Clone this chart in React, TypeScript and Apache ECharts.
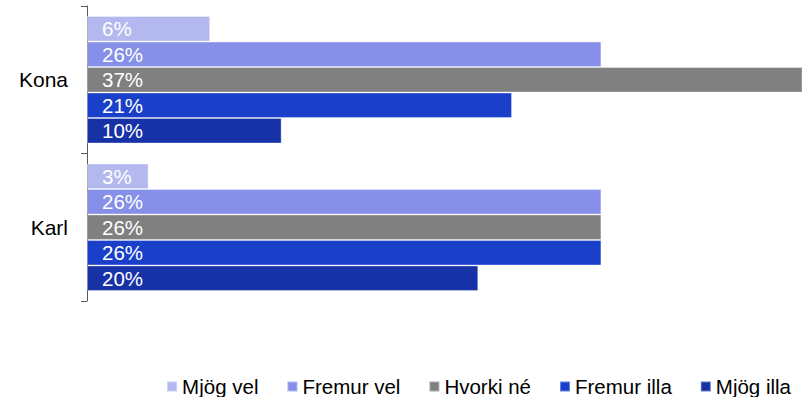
import React, { useEffect, useRef } from "react";
import * as echarts from "echarts";

const categories = ["Kona", "Karl"];
const seriesNames = ["Mjög vel", "Fremur vel", "Hvorki né", "Fremur illa", "Mjög illa"];
const seriesColors = ["#B3B9EE", "#8690E8", "#808080", "#1A3FC9", "#1731A6"];
// values per series: [Kona, Karl]
const mjogVel = [6.2, 3.1];
const fremurVel = [25.9, 25.9];
const hvorkiNe = [36.7, 25.9];
const fremurIlla = [21.4, 25.9];
const mjogIlla = [9.8, 19.7];
const seriesValues = [mjogVel, fremurVel, hvorkiNe, fremurIlla, mjogIlla];

const FONT = "'Liberation Sans', Arial, sans-serif";

export default function App() {
  const ref = useRef<HTMLDivElement>(null);
  useEffect(() => {
    if (!ref.current) return;
    const chart = echarts.init(ref.current, null, { renderer: "svg" });
    chart.setOption({
      animation: false,
      textStyle: { fontFamily: FONT },
      grid: { left: 87, right: 0, top: 6, bottom: 96, containLabel: false },
      legend: {
        data: seriesNames,
        right: 11,
        top: 376,
        icon: "rect",
        itemWidth: 10,
        itemHeight: 10,
        itemGap: 28,
        padding: 0,
        textStyle: { fontSize: 20.5, color: "#000", fontFamily: FONT },
      },
      xAxis: {
        type: "value",
        min: 0,
        max: 36,
        show: false,
      },
      yAxis: {
        type: "category",
        data: categories,
        inverse: true,
        axisLine: { show: true, lineStyle: { color: "#595959", width: 1 } },
        axisTick: { show: true, length: 6, lineStyle: { color: "#595959" } },
        axisLabel: { fontSize: 21, color: "#000", margin: 19, fontFamily: FONT },
        splitLine: { show: false },
      },
      series: seriesNames.map((name, i) => ({
        name,
        type: "bar",
        data: seriesValues[i],
        barGap: 0,
        barCategoryGap: "13.6%",
        clip: true,
        itemStyle: {
          color: seriesColors[i],
          borderColor: "rgba(255,255,255,0.35)",
          borderWidth: 1,
        },
        label: {
          show: true,
          position: "insideLeft",
          distance: 15,
          color: "#fff",
          fontSize: 20.5,
          fontFamily: FONT,
          formatter: (p: any) => `${Math.round(p.value)}%`,
        },
      })),
    });
    return () => chart.dispose();
  }, []);
  return (
    <div
      ref={ref}
      style={{ position: "fixed", left: 0, top: 0, width: 802, height: 397, background: "#fff" }}
    />
  );
}
